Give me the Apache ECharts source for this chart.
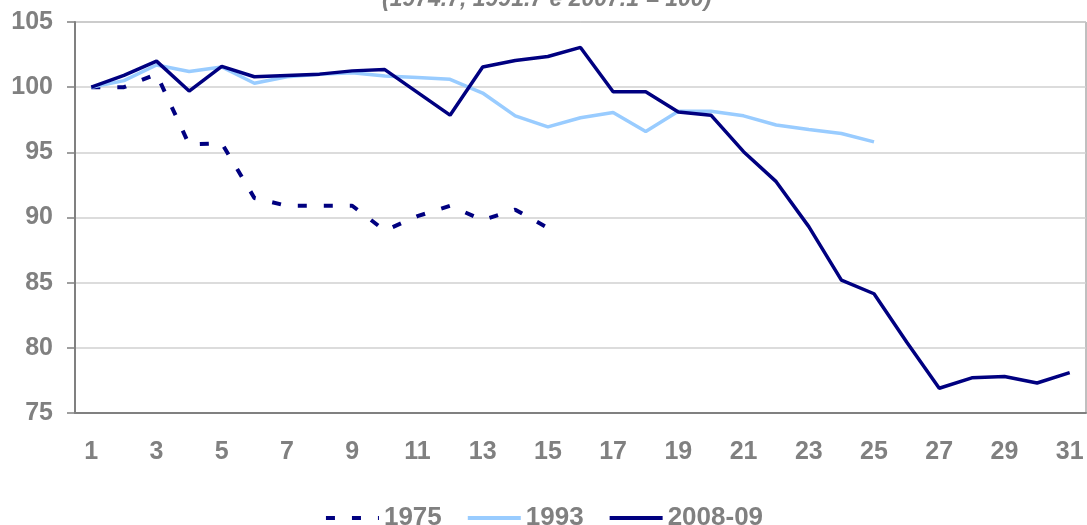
<!DOCTYPE html>
<html>
<head>
<meta charset="utf-8">
<script src="https://cdn.jsdelivr.net/npm/echarts@6/dist/echarts.min.js"></script>
<style>
  html, body { margin: 0; padding: 0; background: #fff; }
  #chart { width: 1087px; height: 525px; }
</style>
</head>
<body>
<div id="chart"></div>
<script>
// meses desde o pico (1..31)
var months = [];
for (var m = 1; m <= 31; m++) months.push(String(m));

var s1975 = [100, 100, 101.0, 95.6, 95.7, 91.5, 90.9, 90.9, 90.9, 89.0, 90.1, 90.9, 89.8, 90.6, 89.2];
var s1993 = [100, 100.5, 101.7, 101.2, 101.55, 100.3, 100.8, 101.0, 101.1, 100.85, 100.75, 100.6, 99.55,
             97.8, 96.95, 97.65, 98.05, 96.6, 98.15, 98.15, 97.8, 97.1, 96.75, 96.45, 95.8];
var s2008 = [100, 100.9, 102.0, 99.7, 101.6, 100.8, 100.9, 101.0, 101.25, 101.35, 99.6, 97.85, 101.55,
             102.05, 102.35, 103.05, 99.65, 99.65, 98.1, 97.85, 95.05, 92.75, 89.3, 85.2, 84.15, 80.45,
             76.9, 77.7, 77.8, 77.3, 78.1];
var seriesNames = ['1975', '1993', '2008-09'];
var titleText = '(1974.7, 1991.7 e 2007.1 = 100)';

var grey = '#808080';
var navy = '#000080';
var lightBlue = '#99ccff';

var chart = echarts.init(document.getElementById('chart'));
chart.setOption({
  animation: false,
  textStyle: { fontFamily: 'Liberation Sans, Arial, sans-serif' },
  title: {
    text: titleText,
    left: 382,
    top: -12,
    padding: 0,
    textStyle: { color: grey, fontSize: 23, fontWeight: 'bold', fontStyle: 'italic' }
  },
  legend: {
    data: seriesNames,
    left: 'center',
    top: 500,
    itemWidth: 53,
    itemHeight: 14,
    itemGap: 24,
    itemStyle: { opacity: 0 },   // so o traco, sem o simbolo
    lineStyle: { width: 4 },
    textStyle: { color: grey, fontSize: 26, fontWeight: 'bold' }
  },
  grid: {
    left: 75, right: 1, top: 22, bottom: 112,
    show: true, borderColor: grey, borderWidth: 1
  },
  xAxis: {
    type: 'category',
    data: months,
    boundaryGap: true,
    axisLine: { lineStyle: { color: grey, width: 2 } },
    axisTick: { interval: 0, length: 9, lineStyle: { color: grey, width: 1.5 } },
    axisLabel: { interval: 1, margin: 27, color: grey, fontSize: 25, fontWeight: 'bold' },
    splitLine: { show: false }
  },
  yAxis: {
    type: 'value',
    min: 75, max: 105, interval: 5,
    axisLine: { show: true, lineStyle: { color: grey, width: 2 } },
    axisTick: { show: true, length: 8, lineStyle: { color: grey, width: 1.5 } },
    axisLabel: { margin: 22, color: grey, fontSize: 25, fontWeight: 'bold' },
    splitLine: { lineStyle: { color: '#d0d0d0', width: 1.5 } }
  },
  series: [
    {
      name: seriesNames[0], type: 'line', data: s1975, symbol: 'none',
      lineStyle: { color: navy, width: 4, type: [9, 17], cap: 'butt' },
      itemStyle: { color: navy }
    },
    {
      name: seriesNames[1], type: 'line', data: s1993, symbol: 'none',
      lineStyle: { color: lightBlue, width: 3.5 },
      itemStyle: { color: lightBlue }
    },
    {
      name: seriesNames[2], type: 'line', data: s2008, symbol: 'none',
      lineStyle: { color: navy, width: 3.5 },
      itemStyle: { color: navy }
    }
  ]
});
</script>
</body>
</html>
